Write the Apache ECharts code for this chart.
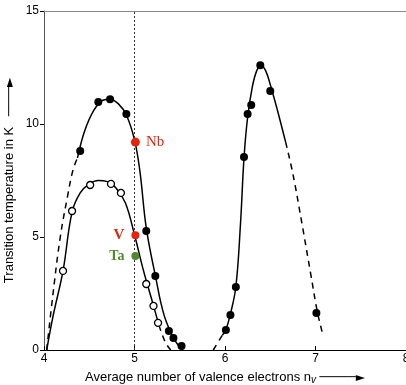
<!DOCTYPE html>
<html><head><meta charset="utf-8">
<script src="https://cdn.jsdelivr.net/npm/echarts@6/dist/echarts.min.js"></script>
<style>html,body{margin:0;padding:0;background:#fff}#c{width:406px;height:385px}</style>
</head><body><div id="c"></div>
<script>
// measured points
const filledPts = [[4.40,8.8],[4.60,10.97],[4.73,11.1],[4.91,10.44],[5.13,5.27],[5.23,3.27],[5.38,0.84],[5.43,0.53],[5.52,0.18]];
const openPts = [[4.21,3.5],[4.31,6.15],[4.51,7.3],[4.74,7.35],[4.85,6.95],[5.13,2.92],[5.21,1.95],[5.26,1.2]];
const rightPts = [[6.01,0.88],[6.06,1.55],[6.12,2.79],[6.21,8.54],[6.25,10.44],[6.29,10.84],[6.39,12.6],[6.50,11.46],[7.01,1.64]];
const nbPt = [[5.01,9.2]];
const vPt = [[5.01,5.08]];
const taPt = [[5.01,4.16]];
// fitted curves
const curveA = [[4.37,8.5],[4.45,9.7],[4.55,10.6],[4.65,11.05],[4.73,11.1],[4.82,10.9],[4.91,10.4],[5.0,9.3],[5.06,7.9],[5.13,5.4],[5.23,3.3],[5.33,1.5],[5.45,0.4],[5.53,0]];
const curveAdash = [[4.03,0],[4.1,2.5],[4.18,5.0],[4.26,6.8],[4.32,7.96],[4.37,8.5]];
const curveB = [[4.03,0],[4.1,1.5],[4.21,3.5],[4.31,6.1],[4.4,6.95],[4.5,7.35],[4.6,7.5],[4.7,7.45],[4.8,7.15],[4.9,6.5],[5.0,5.1],[5.1,3.5],[5.2,2.1],[5.27,1.1]];
const curveBdash = [[5.27,1.1],[5.34,0.35],[5.4,0]];
const curveC = [[5.97,0.65],[6.01,0.9],[6.06,1.6],[6.12,2.8],[6.17,5.5],[6.21,8.5],[6.25,10.3],[6.30,11.6],[6.35,12.35],[6.40,12.6],[6.45,12.35],[6.50,11.75],[6.58,10.6],[6.67,9.2]];
const curveCdashL = [[5.87,0],[5.97,0.65]];
const curveCdashR = [[6.67,9.2],[6.75,7.8],[6.85,5.6],[6.95,3.3],[7.02,1.7],[7.08,0.7]];
const xTicks = [4,5,6,7,8];
const yTicks = [0,5,10,15];

const chart = echarts.init(document.getElementById('c'));
const lineS = (d, dashed) => ({type:'line', data:d, smooth:0.4, symbol:'none', silent:true,
  lineStyle:{color:'#000', width:1.5, type: dashed ? [6,5] : 'solid'}, z:2});
const richName = {
  a:{fontSize:13, lineHeight:15, fontFamily:'Liberation Sans', color:'#000'},
  s:{fontSize:10, lineHeight:15, fontStyle:'italic', fontFamily:'Liberation Sans', color:'#000', padding:[5,0,0,0]},
  b:{fontSize:12, lineHeight:15, fontFamily:'DejaVu Sans', color:'#000'}
};
chart.setOption({
  animation:false,
  grid:{left:44, right:0, top:11, bottom:35, outerBoundsMode:'none', containLabel:false},
  xAxis:[{type:'value', min:xTicks[0], max:xTicks[xTicks.length-1], interval:1,
    axisLine:{lineStyle:{color:'#000', width:1}},
    axisTick:{inside:true, length:4, lineStyle:{color:'#000'}},
    axisLabel:{color:'#000', fontSize:12, fontFamily:'Liberation Sans', margin:3},
    splitLine:{show:false},
    name:'{a|Average number of valence electrons n}{s|v}{a| }{b|─────►}',
    nameLocation:'middle', nameGap:19,
    nameTextStyle:{rich:richName}},
    {type:'value', position:'top', min:4, max:8, axisLine:{show:true, lineStyle:{color:'#888'}},
     axisTick:{show:false}, axisLabel:{show:false}, splitLine:{show:false}}],
  yAxis:{type:'value', min:yTicks[0], max:yTicks[yTicks.length-1], interval:5,
    axisLine:{show:true, lineStyle:{color:'#555', width:1}},
    axisTick:{show:true, length:4, lineStyle:{color:'#000'}},
    axisLabel:{color:'#000', fontSize:12, fontFamily:'Liberation Sans', margin:5},
    splitLine:{show:false},
    name:'{a|Transition temperature in K}{a|   }{b|────►}', nameLocation:'middle', nameGap:27,
    nameMoveOverlap:false,
    nameTextStyle:{rich:richName}},
  series:[
    {type:'line', data:[], markLine:{silent:true, symbol:'none', label:{show:false},
      lineStyle:{color:'#333', type:[2,2], width:1}, data:[{xAxis:5}]}},
    lineS(curveA,false), lineS(curveAdash,true), lineS(curveB,false), lineS(curveBdash,true),
    lineS(curveC,false), lineS(curveCdashL,true), lineS(curveCdashR,true),
    {type:'scatter', data:filledPts, symbolSize:8, itemStyle:{color:'#000', opacity:1}, z:5},
    {type:'scatter', data:rightPts, symbolSize:8, itemStyle:{color:'#000', opacity:1}, z:5},
    {type:'scatter', data:openPts, symbolSize:7, itemStyle:{color:'#fff', borderColor:'#000', borderWidth:1.3, opacity:1}, z:5},
    {type:'scatter', data:nbPt, symbolSize:9, itemStyle:{color:'#e8230c', opacity:1}, z:6,
      label:{show:true, position:'right', distance:6, formatter:'Nb', color:'#e8230c', fontSize:15, fontFamily:'Liberation Serif'}},
    {type:'scatter', data:vPt, symbolSize:8, itemStyle:{color:'#e8230c', opacity:1}, z:6,
      label:{show:true, position:'left', distance:7, formatter:'V', color:'#e8230c', fontSize:15, fontWeight:'bold', fontFamily:'Liberation Serif'}},
    {type:'scatter', data:taPt, symbolSize:8, itemStyle:{color:'#4c8a2c', opacity:1}, z:6,
      label:{show:true, position:'left', distance:7, formatter:'Ta', color:'#4c8a2c', fontSize:14, fontWeight:'bold', fontFamily:'Liberation Serif'}}
  ]
});
</script></body></html>
